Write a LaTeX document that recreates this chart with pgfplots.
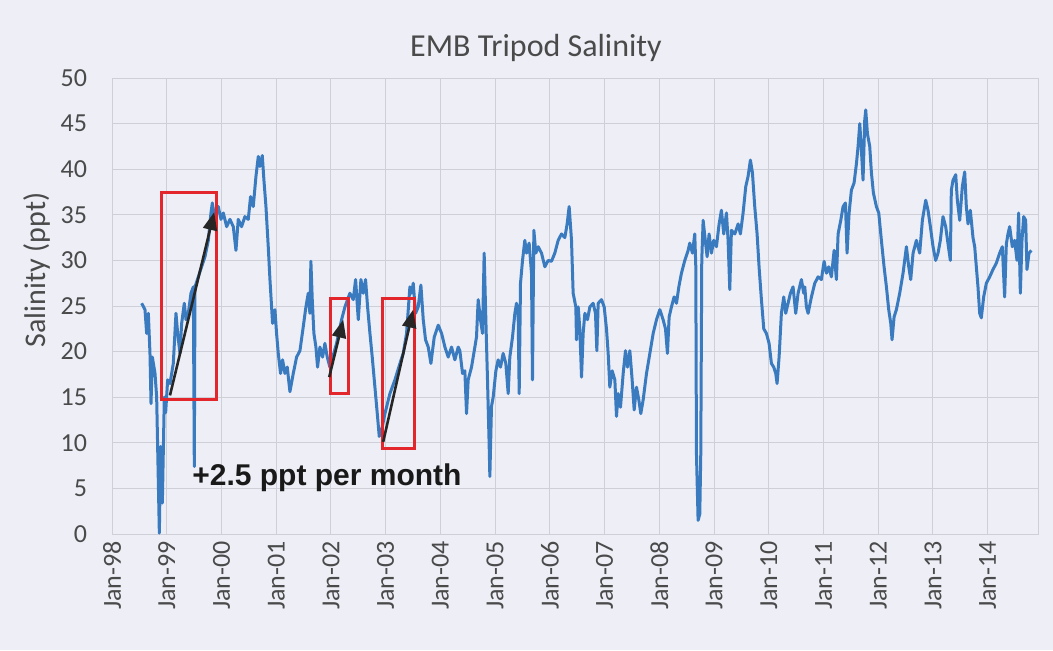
\documentclass[border=0pt]{standalone}
\usepackage{pgfplots}
\pgfplotsset{compat=1.18}
\usepackage{fontspec}
\setmainfont{Carlito}
\newfontfamily\annfont{Liberation Sans}
\usetikzlibrary{arrows.meta}
\definecolor{bgc}{HTML}{EDEEF6}
\definecolor{gridc}{HTML}{CFCFD8}
\definecolor{linec}{HTML}{3A7BC0}
\definecolor{txtc}{HTML}{4A4A4A}
\definecolor{boxred}{HTML}{E3262B}
\begin{document}
\begin{tikzpicture}[x=1bp,y=1bp]
\fill[bgc] (-56,-58) rectangle (470.5,267);
\useasboundingbox (-56,-58) rectangle (470.5,267);
\begin{axis}[at={(0,0)}, anchor=south west, scale only axis, width=463bp, height=228bp,
 xmin=1998, xmax=2014.92, ymin=0, ymax=50,
 xtick={1998,1999,2000,2001,2002,2003,2004,2005,2006,2007,2008,2009,2010,2011,2012,2013,2014},
 xticklabels={Jan-98,Jan-99,Jan-00,Jan-01,Jan-02,Jan-03,Jan-04,Jan-05,Jan-06,Jan-07,Jan-08,Jan-09,Jan-10,Jan-11,Jan-12,Jan-13,Jan-14},
 ytick={0,5,...,50},
 grid=major, major grid style={draw=gridc, line width=0.5bp},
 axis line style={draw=gridc, line width=0.5bp},
 major tick length=0pt,
 tick label style={font=\fontsize{13bp}{15bp}\selectfont, text=txtc},
 xticklabel style={rotate=90, anchor=east, xshift=0bp},
 yticklabel style={anchor=east, xshift=-9bp},
 /pgf/number format/assume math mode=true,
]
\addplot[linec, line width=1.5bp, line join=round] table {
1998.542 25.3
1998.603 24.6
1998.633 22.0
1998.664 24.2
1998.694 19.8
1998.713 14.3
1998.737 19.4
1998.786 17.6
1998.816 15.0
1998.846 5.9
1998.865 0.1
1998.889 9.6
1998.920 3.4
1998.956 15.0
1998.980 13.3
1999.017 16.9
1999.060 16.5
1999.120 18.7
1999.169 24.2
1999.200 22.0
1999.242 19.8
1999.273 23.1
1999.321 25.3
1999.352 23.5
1999.394 24.2
1999.443 26.4
1999.486 27.1
1999.504 7.4
1999.516 27.1
1999.577 28.2
1999.638 29.3
1999.699 30.4
1999.760 32.2
1999.808 35.2
1999.833 36.3
1999.881 34.5
1999.942 35.9
1999.991 34.5
2000.034 35.2
2000.095 33.7
2000.155 34.5
2000.216 33.7
2000.265 31.1
2000.307 34.5
2000.368 33.7
2000.429 34.8
2000.490 34.5
2000.532 37.0
2000.581 35.9
2000.630 39.2
2000.673 41.4
2000.703 40.3
2000.746 41.5
2000.776 38.8
2000.813 35.9
2000.855 31.5
2000.886 27.9
2000.916 24.9
2000.934 23.1
2000.977 24.6
2001.007 22.0
2001.038 19.8
2001.080 17.6
2001.117 19.1
2001.160 17.6
2001.202 18.3
2001.251 15.6
2001.312 17.6
2001.373 19.4
2001.434 20.1
2001.494 22.7
2001.543 24.9
2001.586 26.4
2001.616 24.2
2001.634 29.9
2001.659 25.7
2001.689 22.0
2001.726 20.5
2001.756 18.3
2001.799 20.5
2001.848 19.4
2001.890 20.9
2001.933 19.4
2001.981 18.3
2002.103 20.9
2002.195 23.5
2002.256 24.9
2002.347 26.4
2002.408 25.7
2002.451 27.9
2002.500 23.5
2002.548 27.9
2002.591 26.4
2002.633 27.9
2002.670 24.9
2002.713 22.0
2002.755 19.4
2002.804 16.1
2002.847 13.2
2002.883 10.7
2002.926 11.4
2002.987 13.2
2003.078 15.4
2003.169 16.9
2003.261 18.7
2003.321 19.8
2003.382 22.0
2003.443 27.1
2003.474 26.4
2003.504 27.5
2003.547 24.2
2003.595 24.9
2003.644 27.3
2003.687 23.5
2003.729 21.3
2003.778 20.5
2003.827 18.7
2003.888 21.6
2003.961 22.9
2004.022 22.0
2004.083 20.5
2004.143 19.4
2004.204 20.5
2004.265 19.1
2004.326 20.5
2004.356 20.1
2004.405 17.6
2004.447 17.9
2004.478 13.2
2004.508 16.9
2004.569 18.3
2004.630 20.5
2004.660 21.6
2004.691 25.7
2004.733 23.5
2004.770 22.0
2004.800 30.8
2004.831 23.5
2004.861 16.9
2004.892 9.6
2004.904 6.3
2004.934 14.0
2004.965 15.0
2005.014 17.9
2005.056 19.1
2005.099 18.3
2005.147 19.8
2005.196 18.7
2005.239 15.4
2005.269 19.4
2005.318 21.6
2005.361 24.2
2005.391 25.3
2005.421 24.2
2005.440 15.4
2005.464 27.5
2005.501 30.0
2005.543 32.2
2005.574 30.8
2005.622 31.9
2005.665 28.6
2005.683 16.9
2005.708 33.3
2005.744 30.8
2005.787 31.5
2005.848 30.8
2005.909 29.3
2005.969 30.0
2006.030 29.9
2006.091 30.8
2006.152 32.2
2006.213 32.9
2006.274 32.5
2006.316 34.0
2006.353 35.9
2006.396 32.2
2006.426 26.4
2006.475 24.9
2006.487 21.3
2006.518 24.9
2006.548 22.5
2006.579 17.2
2006.609 22.0
2006.640 24.2
2006.688 23.5
2006.731 24.9
2006.792 25.3
2006.834 24.2
2006.859 20.1
2006.883 25.3
2006.944 25.7
2006.993 24.9
2007.035 22.5
2007.066 19.8
2007.096 16.1
2007.139 17.9
2007.188 16.9
2007.218 12.9
2007.248 15.4
2007.291 13.9
2007.340 17.6
2007.382 20.1
2007.419 18.3
2007.462 20.1
2007.504 16.9
2007.541 13.6
2007.583 16.1
2007.626 14.7
2007.662 13.2
2007.705 14.7
2007.766 17.6
2007.827 19.8
2007.888 22.0
2007.949 23.5
2008.010 24.6
2008.070 23.5
2008.113 22.5
2008.149 19.8
2008.180 23.8
2008.222 24.9
2008.271 26.0
2008.314 25.3
2008.357 27.1
2008.405 28.6
2008.466 30.0
2008.527 31.1
2008.557 31.9
2008.606 30.8
2008.648 32.9
2008.667 29.3
2008.679 8.8
2008.709 1.5
2008.740 2.2
2008.758 8.8
2008.776 30.0
2008.801 34.4
2008.831 32.7
2008.874 30.4
2008.910 32.9
2008.953 30.8
2008.995 32.2
2009.044 31.5
2009.093 34.0
2009.135 35.5
2009.178 32.9
2009.227 35.2
2009.257 32.2
2009.288 26.8
2009.318 33.3
2009.379 32.9
2009.440 34.0
2009.482 32.9
2009.531 35.2
2009.580 38.1
2009.622 39.2
2009.665 41.0
2009.702 39.6
2009.744 35.9
2009.787 32.9
2009.823 29.3
2009.866 25.7
2009.909 22.5
2009.957 22.0
2010.006 20.9
2010.049 18.7
2010.091 18.3
2010.128 17.6
2010.152 16.5
2010.189 19.4
2010.231 24.2
2010.274 26.0
2010.310 24.2
2010.353 25.3
2010.396 26.4
2010.444 27.1
2010.493 24.2
2010.536 26.4
2010.597 27.9
2010.639 26.4
2010.658 27.1
2010.688 24.9
2010.719 24.2
2010.780 26.0
2010.841 27.5
2010.902 28.2
2010.962 27.9
2011.011 29.9
2011.054 28.6
2011.096 29.3
2011.145 28.2
2011.194 31.1
2011.236 27.9
2011.267 32.9
2011.316 34.4
2011.358 35.9
2011.401 36.3
2011.431 30.8
2011.468 35.2
2011.510 37.7
2011.559 38.5
2011.602 40.6
2011.632 42.5
2011.663 45.0
2011.693 42.1
2011.723 38.8
2011.754 45.4
2011.772 46.5
2011.803 43.9
2011.845 42.5
2011.876 39.6
2011.912 37.4
2011.967 35.9
2012.010 35.2
2012.058 32.2
2012.107 29.3
2012.150 27.1
2012.192 24.6
2012.229 23.1
2012.253 21.3
2012.290 23.8
2012.332 24.6
2012.393 26.4
2012.454 28.6
2012.515 31.5
2012.558 29.3
2012.594 27.9
2012.637 30.8
2012.698 32.2
2012.758 30.8
2012.807 34.4
2012.868 36.6
2012.910 35.5
2012.953 33.7
2013.002 31.5
2013.050 30.0
2013.093 30.8
2013.135 32.2
2013.184 34.8
2013.233 33.7
2013.276 31.8
2013.318 30.0
2013.336 37.7
2013.367 38.8
2013.416 39.4
2013.446 36.6
2013.489 34.4
2013.537 38.1
2013.580 39.7
2013.610 35.9
2013.641 34.0
2013.683 35.5
2013.732 32.5
2013.763 31.5
2013.793 29.3
2013.823 27.1
2013.854 24.2
2013.884 23.7
2013.927 26.0
2013.976 27.5
2014.037 28.2
2014.097 29.0
2014.158 29.7
2014.219 30.8
2014.268 31.5
2014.310 26.0
2014.341 31.8
2014.371 32.9
2014.402 33.7
2014.450 31.5
2014.493 32.2
2014.536 30.0
2014.566 35.2
2014.597 26.4
2014.627 32.2
2014.658 34.8
2014.694 34.4
2014.718 29.0
2014.755 30.8
2014.798 31.1
};
\draw[boxred, line width=1.5bp] (axis cs:1998.913,14.7) rectangle (axis cs:1999.918,37.4);
\draw[boxred, line width=1.5bp] (axis cs:2001.995,15.4) rectangle (axis cs:2002.320,25.8);
\draw[boxred, line width=1.5bp] (axis cs:2002.937,9.4) rectangle (axis cs:2003.520,25.8);
\draw[black!85, line width=1.3bp, -{Triangle[length=9bp,width=7bp]}] (axis cs:1999.059,15.2) -- (axis cs:1999.868,35.3);
\draw[black!85, line width=1.3bp, -{Triangle[length=9bp,width=7bp]}] (axis cs:2001.969,17.2) -- (axis cs:2002.225,23.5);
\draw[black!85, line width=1.3bp, -{Triangle[length=9bp,width=7bp]}] (axis cs:2002.955,10.1) -- (axis cs:2003.503,24.6);
\node[font=\annfont\bfseries\fontsize{15bp}{17bp}\selectfont, text=black!90, anchor=base west, inner sep=0pt] at (axis cs:1999.461,5.37) {+2.5 ppt per month};
\end{axis}
\node[font=\fontsize{16bp}{19bp}\selectfont, text=txtc] at (212,243) {EMB Tripod Salinity};
\node[rotate=90, font=\fontsize{15bp}{18bp}\selectfont, text=txtc] at (-37.5,132) {Salinity (ppt)};
\end{tikzpicture}
\end{document}
